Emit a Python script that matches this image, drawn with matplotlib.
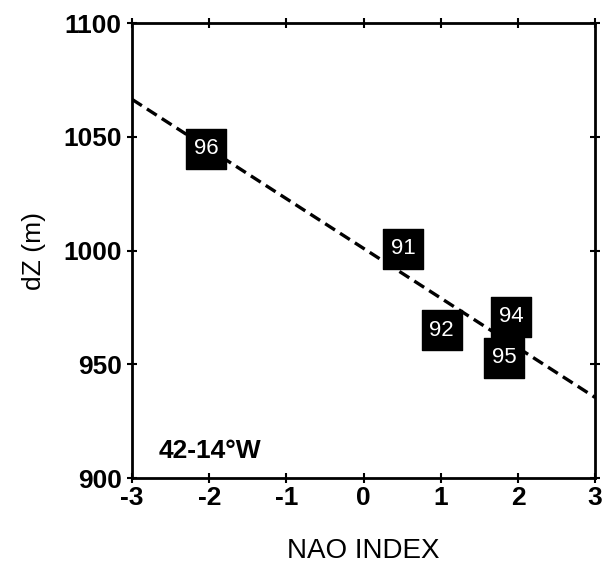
import numpy as np
import matplotlib
matplotlib.use("Agg")
import matplotlib.pyplot as plt

plt.rcParams['font.family'] = ['Liberation Sans', 'DejaVu Sans']
plt.rcParams['axes.unicode_minus'] = False

# winter NAO index vs thickness anomaly, labelled by year
years = ['96', '91', '92', '94', '95']
nao = [-2.04, 0.51, 1.01, 1.91, 1.82]
dz = [1044.7, 1000.8, 965.0, 971.0, 953.0]

# regression line end points
fit_x = [-3, 3]
fit_y = [1066.5, 935.5]

fig = plt.figure(figsize=(6.03, 5.64), dpi=100)
ax = fig.add_axes([0.219, 0.152, 0.768, 0.807])

ax.plot(fit_x, fit_y, color='black', lw=2.4, ls=(0, (3.5, 1.8)), zorder=2)
ax.scatter(nao, dz, marker='s', s=29**2, color='black', zorder=3)
for yr, x, y in zip(years, nao, dz):
    ax.text(x, y, yr, color='white', fontsize=16, ha='center', va='center', zorder=4)

ax.text(-2.66, 912, '42-14°W', fontsize=19, fontweight='bold', ha='left', va='center')

ax.set_xlim(-3, 3)
ax.set_ylim(900, 1100)
ax.set_xticks(range(-3, 4))
ax.set_yticks([900, 950, 1000, 1050, 1100])
ax.tick_params(direction='inout', length=7, width=1.5, labelsize=19,
               top=True, right=True)
ax.tick_params(axis='y', pad=4)
ax.tick_params(axis='x', pad=2)
for lab in ax.get_xticklabels() + ax.get_yticklabels():
    lab.set_fontweight('bold')
for sp in ax.spines.values():
    sp.set_linewidth(2)

ax.set_xlabel('NAO INDEX', fontsize=20, labelpad=20)
ax.set_ylabel('dZ (m)', fontsize=19, labelpad=12)

fig.savefig('out.png', dpi=100)
